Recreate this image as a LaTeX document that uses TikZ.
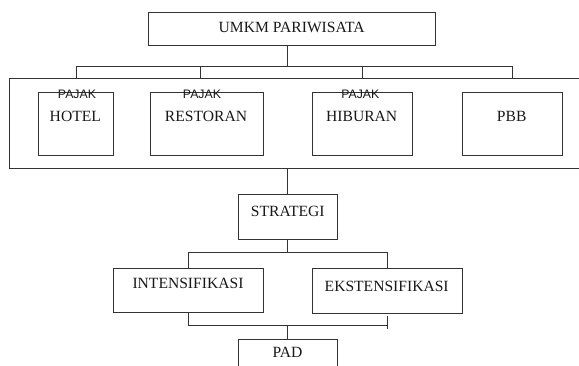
\documentclass[tikz,border=0pt]{standalone}
\usepackage{fontspec}
\setmainfont{Liberation Serif}
\newfontfamily\pajakfont{Liberation Sans}
\begin{document}
\begin{tikzpicture}[x=1pt,y=-1pt,
  line width=0.8pt, draw=black!80,
  box/.style={draw=black!80, rectangle, inner sep=0pt, outer sep=0pt, anchor=north west},
  lbl/.style={anchor=base, inner sep=0pt, text=black!90, font=\fontsize{15.6}{18}\selectfont},
  pj/.style={anchor=base, inner sep=0pt, text=black!90, font=\pajakfont\fontsize{12.3}{14}\selectfont}]
\useasboundingbox (0,0) rectangle (579,366);
\clip (0,0) rectangle (579,366);
\fill[white] (0,0) rectangle (579,366);
% boxes
\node[box, minimum width=286.6pt, minimum height=32.7pt] (umkm) at (148.7,12.3) {};
\node[box, minimum width=572pt, minimum height=90.4pt] (big) at (9.3,78.3) {};
\node[box, minimum width=74.6pt, minimum height=63.7pt] (hotel) at (38.7,92) {};
\node[box, minimum width=112.6pt, minimum height=63.7pt] (restoran) at (150.7,92) {};
\node[box, minimum width=99.6pt, minimum height=63.7pt] (hiburan) at (312.7,92) {};
\node[box, minimum width=100pt, minimum height=63.7pt] (pbb) at (462.3,92) {};
\node[box, minimum width=99.4pt, minimum height=44.7pt] (strategi) at (238.3,194.3) {};
\node[box, minimum width=150pt, minimum height=44pt] (intens) at (113.3,268.3) {};
\node[box, minimum width=150pt, minimum height=45pt] (eks) at (312.7,268.3) {};
\node[box, minimum width=99.4pt, minimum height=40pt] (pad) at (238.3,339) {};
% texts
\node[lbl] (tumkm) at (291.7,32.3) {UMKM PARIWISATA};
\node[lbl] (thotel) at (75.3,122) {HOTEL};
\node[lbl] (trestoran) at (206,122) {RESTORAN};
\node[lbl] (thiburan) at (361.7,122) {HIBURAN};
\node[lbl] (tpbb) at (511.7,122) {PBB};
\node[pj] (p1) at (77,98.3) {PAJAK};
\node[pj] (p2) at (202,98.3) {PAJAK};
\node[pj] (p3) at (360.3,98.3) {PAJAK};
\node[lbl] (tstrategi) at (287.8,216.7) {STRATEGI};
\node[lbl] (tintens) at (188,289) {INTENSIFIKASI};
\node[lbl] (teks) at (386.7,291.3) {EKSTENSIFIKASI};
\node[lbl] (tpad) at (287.5,357.7) {PAD};
% connector coordinates
\coordinate (u0) at (287.7,45);
\coordinate (ub) at (287.7,66.7);
\coordinate (b1) at (76,66.7);
\coordinate (b2) at (200.7,66.7);
\coordinate (b3) at (362.7,66.7);
\coordinate (b4) at (512.3,66.7);
\coordinate (d1) at (76,78.3);
\coordinate (d2) at (200.7,78.3);
\coordinate (d3) at (362.7,78.3);
\coordinate (d4) at (512.3,78.3);
\coordinate (bigs) at (287.7,168.7);
\coordinate (strn) at (287.7,194.3);
\coordinate (strs) at (287.7,239);
\coordinate (sb) at (287.7,252.3);
\coordinate (sl) at (188.3,252.3);
\coordinate (sr) at (387.7,252.3);
\coordinate (inn) at (188.3,268.3);
\coordinate (ekn) at (387.7,268.3);
\coordinate (ins) at (188.3,312.3);
\coordinate (ll) at (188.3,325);
\coordinate (lr) at (387.7,325);
\coordinate (lm) at (287.7,325);
\coordinate (tk1) at (387.7,316);
\coordinate (tk2) at (387.7,329.3);
\coordinate (padn) at (287.7,339);
% connectors
\draw (u0) -- (ub);
\draw (d1) -- (b1) -- (b4) -- (d4);
\draw (b2) -- (d2);
\draw (b3) -- (d3);
\draw (bigs) -- (strn);
\draw (strs) -- (sb);
\draw (inn) -- (sl) -- (sr) -- (ekn);
\draw (ins) -- (ll) -- (lr);
\draw (tk1) -- (tk2);
\draw (lm) -- (padn);
\end{tikzpicture}
\end{document}
